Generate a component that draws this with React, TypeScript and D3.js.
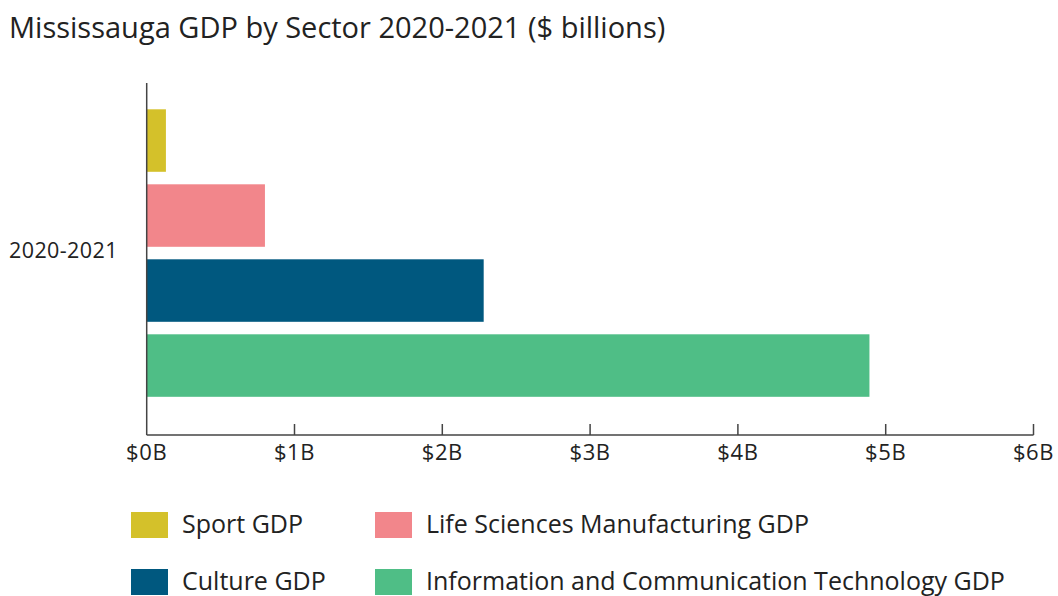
import React from "react";
import * as d3 from "d3";

const title = "Mississauga GDP by Sector 2020-2021 ($ billions)";
const category = "2020-2021";
const seriesNames = [
  "Sport GDP",
  "Life Sciences Manufacturing GDP",
  "Culture GDP",
  "Information and Communication Technology GDP",
];
const seriesValues = [0.13, 0.8, 2.28, 4.89];
const seriesColors = ["#d4c12a", "#f2868b", "#00587f", "#4fbe86"];
const xTicks = [0, 1, 2, 3, 4, 5, 6];
const tickLabel = (v: number) => `$${v}B`;

const W = 1058;
const H = 596;
const FONT = "'Open Sans', sans-serif";
const TEXT = "#222";

export default function App() {
  const x = d3.scaleLinear().domain([0, 6]).range([146.7, 1033.5]);
  const y = d3
    .scaleBand<string>()
    .domain(seriesNames)
    .range([109.3, 396.8])
    .paddingInner(0.1667)
    .paddingOuter(0);
  const axisY = 435;

  const legendPos = [
    { sx: 131, sy: 512 },
    { sx: 375, sy: 512 },
    { sx: 131, sy: 569 },
    { sx: 375, sy: 569 },
  ];

  return (
    <svg
      width={W}
      height={H}
      style={{ position: "absolute", left: 0, top: 0, background: "#fff" }}
      fontFamily={FONT}
    >
      <text x={9} y={38} fontSize={29} fill={TEXT}>
        {title}
      </text>
      <text x={9} y={258} fontSize={21.5} fill={TEXT} letterSpacing={0.4}>
        {category}
      </text>
      {seriesNames.map((n, i) => (
        <rect
          key={n}
          x={x(0)}
          y={y(n)}
          width={x(seriesValues[i]) - x(0)}
          height={y.bandwidth()}
          fill={seriesColors[i]}
        />
      ))}
      <line x1={x(0)} x2={x(0)} y1={83} y2={axisY} stroke="#444" strokeWidth={1.5} />
      <line x1={x(0)} x2={x(6)} y1={axisY} y2={axisY} stroke="#444" strokeWidth={1.5} />
      {xTicks.map((t) => (
        <g key={t}>
          {t > 0 && (
            <line x1={x(t)} x2={x(t)} y1={axisY - 11} y2={axisY} stroke="#444" strokeWidth={1.5} />
          )}
          <text x={x(t)} y={460} fontSize={22} textAnchor="middle" fill={TEXT} letterSpacing={0.6}>
            {tickLabel(t)}
          </text>
        </g>
      ))}
      {seriesNames.map((n, i) => (
        <g key={n}>
          <rect x={legendPos[i].sx} y={legendPos[i].sy} width={37} height={26} fill={seriesColors[i]} />
          <text
            x={legendPos[i].sx + 51}
            y={legendPos[i].sy + 21}
            fontSize={25}
            fill={TEXT}
          >
            {n}
          </text>
        </g>
      ))}
    </svg>
  );
}
